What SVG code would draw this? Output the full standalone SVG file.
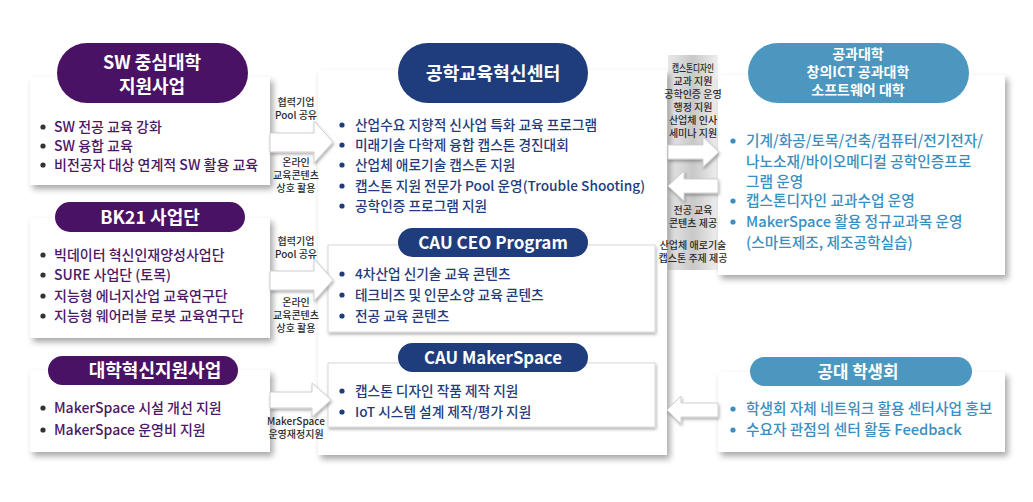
<svg xmlns="http://www.w3.org/2000/svg" width="1033" height="502" viewBox="0 0 1033 502">
<defs>
<filter id="sh" x="-10%" y="-10%" width="125%" height="130%">
<feDropShadow dx="3" dy="4" stdDeviation="3" flood-color="#000" flood-opacity="0.35"/>
</filter>
<filter id="ash" x="-20%" y="-20%" width="150%" height="150%">
<feDropShadow dx="1" dy="2" stdDeviation="1.5" flood-color="#000" flood-opacity="0.3"/>
</filter>
<linearGradient id="band" x1="0" y1="0" x2="1" y2="0">
<stop offset="0" stop-color="#e8e8e8"/>
<stop offset="0.5" stop-color="#c8c8c8"/>
<stop offset="1" stop-color="#efefef"/>
</linearGradient>
</defs>
<style>
text{font-family:"Noto Sans CJK KR","Noto Sans",sans-serif}
.card{fill:#fff;filter:url(#sh)}
.sub{fill:#fff;stroke:#d8d8d8;stroke-width:1;filter:url(#ash)}
.pp{fill:#4a1264}
.pn{fill:#1f3c7c}
.pb{fill:#4b97bf}
.pt{fill:#fff;font-weight:700;text-anchor:middle}
.tp{fill:#4b1866;font-size:14px;font-weight:500}
.tn{fill:#1f3c7c;font-size:13.7px;font-weight:500}
.tb{fill:#3a8fc0;font-size:14.7px;font-weight:500}
.lb{fill:#2a2a2a;font-size:10px;font-weight:500;text-anchor:middle}
.arr{fill:#fff;stroke:#cfcfcf;stroke-width:1;filter:url(#ash)}
</style>
<rect width="1033" height="502" fill="#fff"/>
<rect x="668" y="55" width="50" height="215" fill="url(#band)"/>

<g id="sw">
<rect class="card" x="30" y="77" width="240" height="108"/>
<rect class="pp" x="57" y="43" width="191" height="60" rx="30"/>
<text class="pt" x="152" y="69" font-size="18">SW 중심대학</text>
<text class="pt" x="152" y="93" font-size="18">지원사업</text>
<g class="tp">
<circle cx="43" cy="127" r="2.6" fill="#333"/><text x="54" y="131.5">SW 전공 교육 강화</text>
<circle cx="43" cy="146" r="2.6" fill="#333"/><text x="54" y="150.5">SW 융합 교육</text>
<circle cx="43" cy="165" r="2.6" fill="#333"/><text x="54" y="169.5">비전공자 대상 연계적 SW 활용 교육</text>
</g>
</g>

<g id="bk21">
<rect class="card" x="30" y="218" width="240" height="120"/>
<rect class="pp" x="55" y="202" width="190" height="30" rx="15"/>
<text class="pt" x="150" y="224" font-size="18">BK21 사업단</text>
<g class="tp">
<circle cx="43" cy="255" r="2.6" fill="#333"/><text x="54" y="259.5">빅데이터 혁신인재양성사업단</text>
<circle cx="43" cy="275" r="2.6" fill="#333"/><text x="54" y="279.5">SURE 사업단 (토목)</text>
<circle cx="43" cy="296" r="2.6" fill="#333"/><text x="54" y="300.5">지능형 에너지산업 교육연구단</text>
<circle cx="43" cy="316" r="2.6" fill="#333"/><text x="54" y="320.5">지능형 웨어러블 로봇 교육연구단</text>
</g>
</g>

<g id="innov">
<rect class="card" x="30" y="370" width="240" height="82"/>
<rect class="pp" x="48" y="356" width="190" height="29" rx="14.5"/>
<text class="pt" x="155" y="377" font-size="18">대학혁신지원사업</text>
<g class="tp">
<circle cx="43" cy="408" r="2.6" fill="#333"/><text x="54" y="412.5">MakerSpace 시설 개선 지원</text>
<circle cx="43" cy="430" r="2.6" fill="#333"/><text x="54" y="434.5">MakerSpace 운영비 지원</text>
</g>
</g>

<g id="center">
<rect class="card" x="318" y="70" width="349" height="385"/>
<rect class="pn" x="398" y="43" width="190" height="60" rx="30"/>
<text class="pt" x="493" y="80" font-size="18.3">공학교육혁신센터</text>
<g class="tn">
<circle cx="342" cy="125" r="2.6" fill="#1f3c7c"/><text x="355" y="129.5">산업수요 지향적 신사업 특화 교육 프로그램</text>
<circle cx="342" cy="145" r="2.6" fill="#1f3c7c"/><text x="355" y="149.5">미래기술 다학제 융합 캡스톤 경진대회</text>
<circle cx="342" cy="165" r="2.6" fill="#1f3c7c"/><text x="355" y="169.5">산업체 애로기술 캡스톤 지원</text>
<circle cx="342" cy="186" r="2.6" fill="#1f3c7c"/><text x="355" y="190.5">캡스톤 지원 전문가 Pool  운영(Trouble Shooting)</text>
<circle cx="342" cy="206" r="2.6" fill="#1f3c7c"/><text x="355" y="210.5">공학인증 프로그램 지원</text>
</g>
</g>

<g id="ceo">
<rect class="sub" x="328" y="245" width="327" height="87"/>
<rect class="pn" x="398" y="228" width="190" height="29" rx="14.5"/>
<text class="pt" x="493" y="248.5" font-size="17">CAU CEO Program</text>
<g class="tn">
<circle cx="342" cy="274" r="2.6" fill="#1f3c7c"/><text x="355" y="278.5">4차산업 신기술 교육 콘텐츠</text>
<circle cx="342" cy="295" r="2.6" fill="#1f3c7c"/><text x="355" y="299.5">테크비즈 및 인문소양 교육 콘텐츠</text>
<circle cx="342" cy="316" r="2.6" fill="#1f3c7c"/><text x="355" y="320.5">전공 교육 콘텐츠</text>
</g>
</g>

<g id="maker">
<rect class="sub" x="328" y="363" width="327" height="64"/>
<rect class="pn" x="398" y="343" width="190" height="29" rx="14.5"/>
<text class="pt" x="493" y="364" font-size="16.8">CAU MakerSpace</text>
<g class="tn">
<circle cx="342" cy="391" r="2.6" fill="#1f3c7c"/><text x="355" y="395.5">캡스톤 디자인 작품 제작 지원</text>
<circle cx="342" cy="412" r="2.6" fill="#1f3c7c"/><text x="355" y="416.5">IoT 시스템 설계 제작/평가 지원</text>
</g>
</g>

<g id="college">
<rect class="card" x="718" y="75" width="287" height="200"/>
<rect class="pb" x="748" y="43" width="221" height="60" rx="30"/>
<text class="pt" x="858" y="59" font-size="14">공과대학</text>
<text class="pt" x="858" y="77" font-size="14">창의ICT 공과대학</text>
<text class="pt" x="858" y="95" font-size="14">소프트웨어 대학</text>
<g class="tb">
<circle cx="733" cy="141" r="2.6" fill="#3a8fc0"/><text x="746" y="146">기계/화공/토목/건축/컴퓨터/전기전자/</text>
<text x="746" y="166.5">나노소재/바이오메디컬 공학인증프로</text>
<text x="746" y="186.5">그램 운영</text>
<circle cx="733" cy="201" r="2.6" fill="#3a8fc0"/><text x="746" y="206">캡스톤디자인 교과수업 운영</text>
<circle cx="733" cy="222" r="2.6" fill="#3a8fc0"/><text x="746" y="227">MakerSpace 활용 정규교과목 운영</text>
<text x="746" y="247.5">(스마트제조, 제조공학실습)</text>
</g>
</g>

<g id="student">
<rect class="card" x="718" y="372" width="287" height="80"/>
<rect class="pb" x="750" y="357" width="222" height="29" rx="14.5"/>
<text class="pt" x="858" y="377.5" font-size="16.8">공대 학생회</text>
<g class="tb">
<circle cx="733" cy="409" r="2.6" fill="#3a8fc0"/><text x="746" y="414">학생회 자체 네트워크 활용 센터사업 홍보</text>
<circle cx="733" cy="430" r="2.6" fill="#3a8fc0"/><text x="746" y="435">수요자 관점의 센터 활동 Feedback</text>
</g>
</g>

<g id="connectors">
<polygon class="arr" points="270,133 314,133 314,121 333,142 314,163 314,152 270,152"/>
<polygon class="arr" points="270,271 314,271 314,259 333,280 314,301 314,290 270,290"/>
<polygon class="arr" points="270,392 312,392 312,383 331,400 312,417 312,408 270,408"/>
<polygon class="arr" points="668,145 703,145 703,137 719,152 703,167 703,159 668,159"/>
<polygon class="arr" points="718,179 684,179 684,171 668,186 684,201 684,193 718,193"/>
<polygon class="arr" points="718,403 681,403 681,396 667,410 681,424 681,417 718,417"/>
<g class="lb">
<text x="296" y="106">협력기업</text><text x="296" y="119">Pool 공유</text>
<text x="296" y="166">온라인</text><text x="296" y="179">교육콘텐츠</text><text x="296" y="192">상호 활용</text>
<text x="296" y="245">협력기업</text><text x="296" y="258">Pool 공유</text>
<text x="296" y="306">온라인</text><text x="296" y="319">교육콘텐츠</text><text x="296" y="332">상호 활용</text>
<text x="296" y="425">MakerSpace</text><text x="296" y="438">운영재정지원</text>
<text x="693" y="72" textLength="42" lengthAdjust="spacingAndGlyphs">캡스톤디자인</text><text x="693" y="85">교과 지원</text><text x="693" y="98">공학인증 운영</text><text x="693" y="111">행정 지원</text><text x="693" y="124">산업체 인사</text><text x="693" y="137">세미나 지원</text>
<text x="693" y="214">전공 교육</text><text x="693" y="227">콘텐츠 제공</text>
<text x="693" y="249">산업체 애로기술</text><text x="693" y="262">캡스톤 주제 제공</text>
</g>
</g>
</svg>
